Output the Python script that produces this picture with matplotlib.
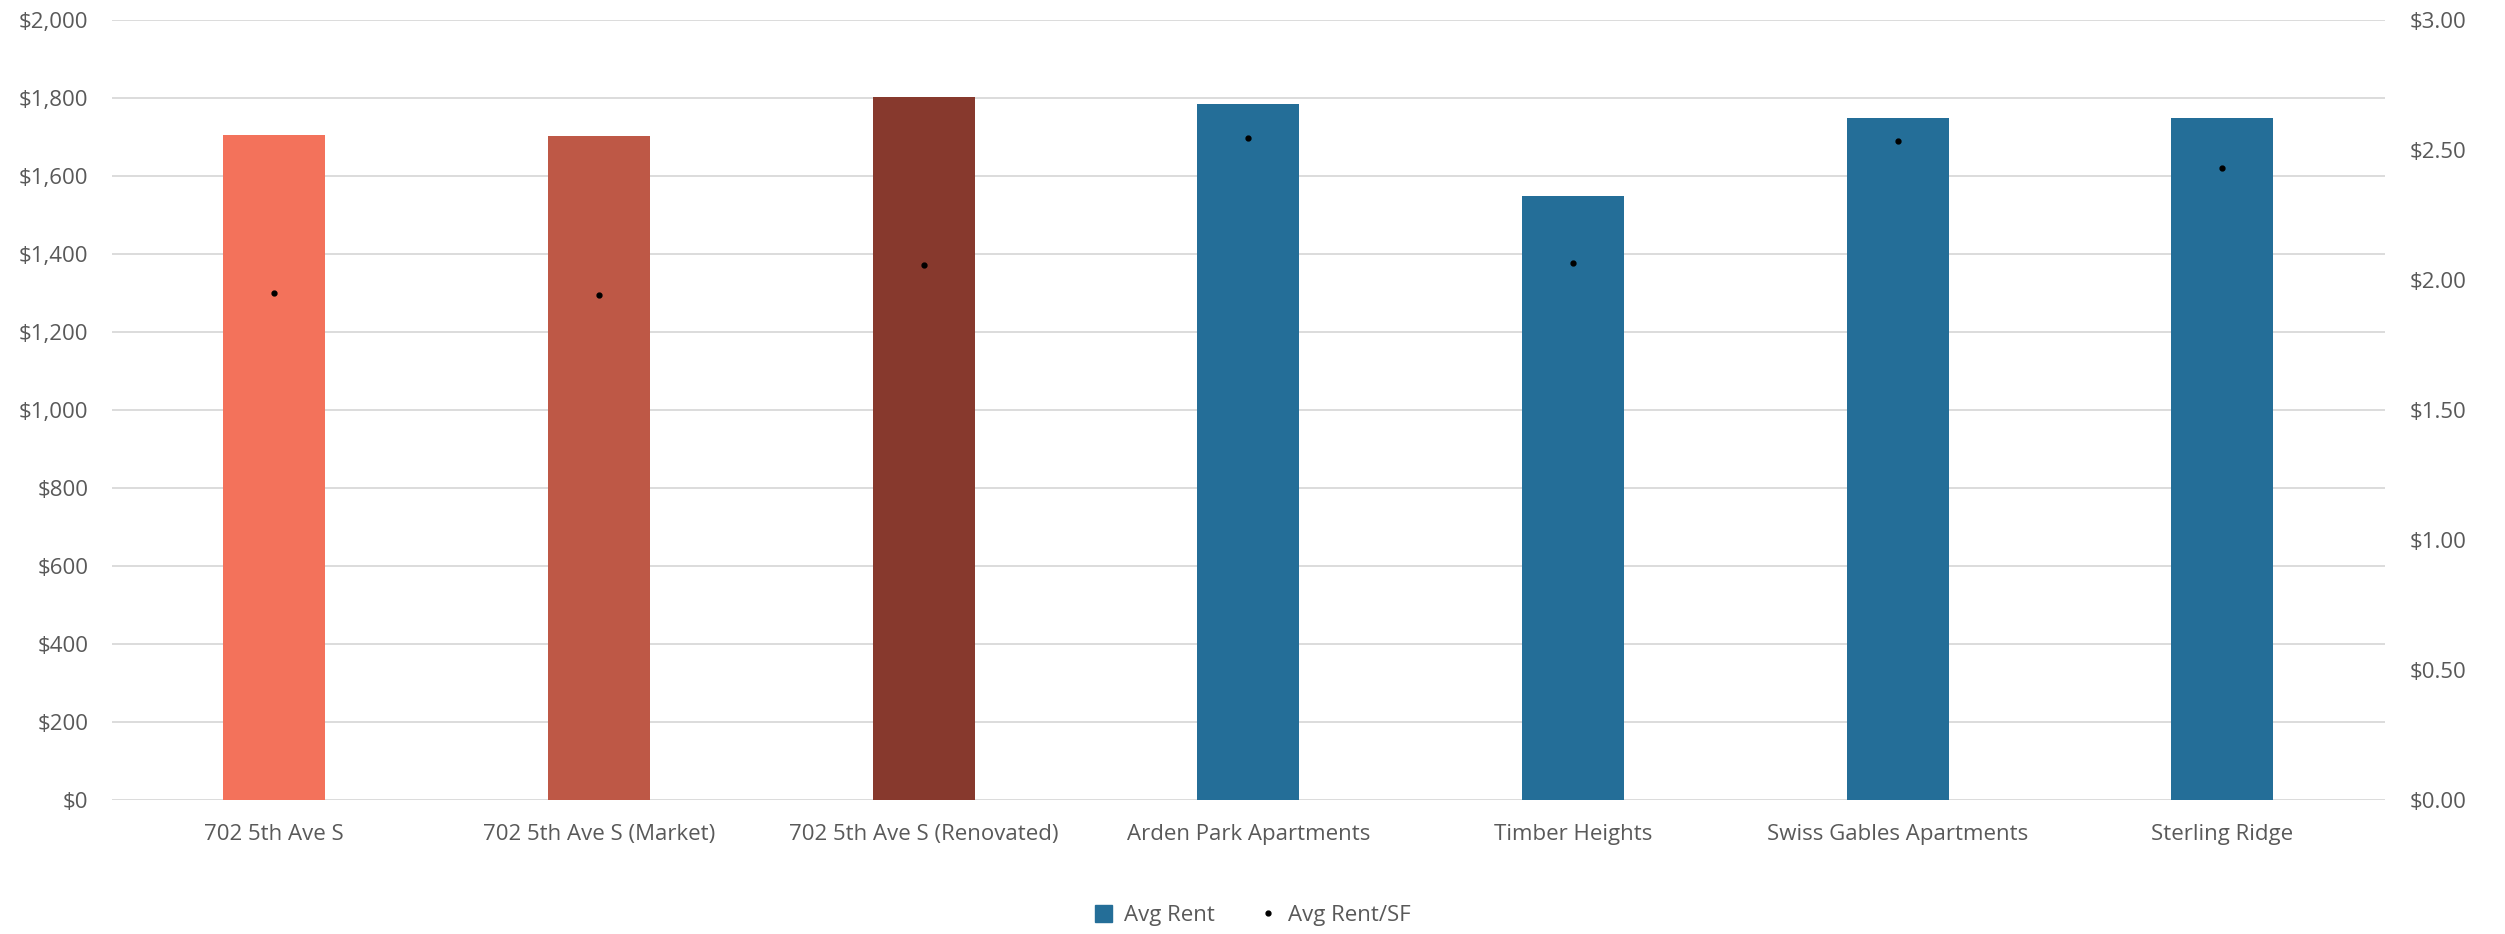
import matplotlib.pyplot as plt
from matplotlib.ticker import FuncFormatter, MultipleLocator
from matplotlib.lines import Line2D
from matplotlib.patches import Patch

plt.rcParams['font.family'] = ['Open Sans', 'DejaVu Sans']

# data
properties = ['702 5th Ave S', '702 5th Ave S (Market)', '702 5th Ave S (Renovated)',
              'Arden Park Apartments', 'Timber Heights', 'Swiss Gables Apartments', 'Sterling Ridge']
avg_rent = [1705, 1702, 1803, 1784, 1550, 1750, 1750]
avg_rent_sf = [1.95, 1.943, 2.057, 2.546, 2.067, 2.535, 2.43]
bar_colors = ['#F3725B', '#BE5846', '#87392D', '#246E98', '#246E98', '#246E98', '#246E98']

text_gray = '#595959'
grid_gray = '#D9D9D9'

fig = plt.figure(figsize=(25.05, 9.34), dpi=100)
ax = fig.add_axes([0.0447, 0.1435, 0.9073, 0.835])

x = range(len(properties))
ax.bar(x, avg_rent, width=0.314, color=bar_colors, zorder=2)
ax.set_xlim(-0.5, len(properties) - 0.5)
ax.set_ylim(0, 2000)
ax.yaxis.set_major_locator(MultipleLocator(200))
ax.yaxis.set_major_formatter(FuncFormatter(lambda v, p: '${:,.0f}'.format(v)))
ax.set_xticks(list(x))
ax.set_xticklabels(properties)
ax.grid(axis='y', color=grid_gray, linewidth=1.3, zorder=0)
for s in ax.spines.values():
    s.set_visible(False)
ax.tick_params(length=0, labelsize=16, colors=text_gray, pad=17)
ax.tick_params(axis='x', pad=17)

ax2 = ax.twinx()
ax2.plot(list(x), avg_rent_sf, linestyle='none', marker='o', markersize=3.5, color='black', zorder=3)
ax2.set_ylim(0, 3)
ax2.yaxis.set_major_locator(MultipleLocator(0.5))
ax2.yaxis.set_major_formatter(FuncFormatter(lambda v, p: '${:.2f}'.format(v)))
for s in ax2.spines.values():
    s.set_visible(False)
ax2.tick_params(length=0, labelsize=16, colors=text_gray, pad=18)

handles = [Patch(color='#246E98', label='Avg Rent'),
           Line2D([], [], linestyle='none', marker='o', markersize=3.5, color='black', label='Avg Rent/SF')]
fig.legend(handles=handles, loc='center', bbox_to_anchor=(0.5, 0.02), ncol=2, frameon=False,
           fontsize=16, labelcolor=text_gray, handlelength=0.8, handleheight=0.8,
           handletextpad=0.5, columnspacing=2.0)

fig.savefig('out.png', dpi=100)
